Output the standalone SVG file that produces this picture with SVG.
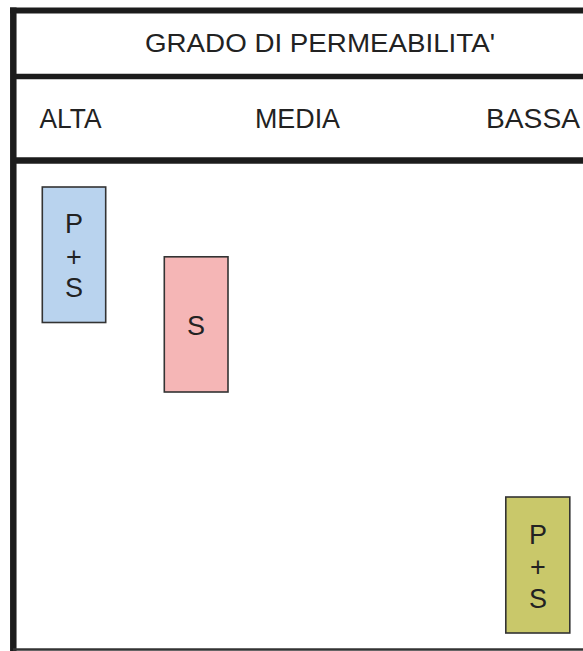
<svg xmlns="http://www.w3.org/2000/svg" width="583" height="651" viewBox="0 0 583 651">
<style>
.frame{stroke:#1c1c1c;fill:none;}
.t{font-family:"Liberation Sans",Arial,sans-serif;fill:#222;}
.box{stroke:#333;stroke-width:1.6;}
.bt{font-family:"Liberation Sans",Arial,sans-serif;fill:#222;font-size:27px;text-anchor:middle;}
</style>
<rect width="583" height="651" fill="#ffffff"/>
<g id="frame">
<line class="frame" x1="10" y1="10.4" x2="583" y2="10.4" stroke-width="6"/>
<line class="frame" x1="13.3" y1="7.4" x2="13.3" y2="651" stroke-width="6.5"/>
<line class="frame" x1="13" y1="76.5" x2="583" y2="76.5" stroke-width="5.5"/>
<line class="frame" x1="13" y1="160.5" x2="583" y2="160.5" stroke-width="6.5"/>
<line x1="13" y1="649.5" x2="583" y2="649.5" stroke="#333" stroke-width="2.5"/>
</g>
<g id="header">
<text class="t" x="145" y="52.3" font-size="25.5" textLength="350" lengthAdjust="spacingAndGlyphs">GRADO DI PERMEABILITA'</text>
<text class="t" x="39.5" y="128.3" font-size="27" textLength="62" lengthAdjust="spacingAndGlyphs">ALTA</text>
<text class="t" x="255" y="128.3" font-size="27" textLength="85" lengthAdjust="spacingAndGlyphs">MEDIA</text>
<text class="t" x="486" y="128.3" font-size="27" textLength="94" lengthAdjust="spacingAndGlyphs">BASSA</text>
</g>
<g id="node-alta">
<rect class="box" x="42.3" y="187" width="63.4" height="135.5" fill="#b9d3ee"/>
<text class="bt" x="74" y="233">P</text>
<text class="bt" x="74" y="265.5">+</text>
<text class="bt" x="74" y="297">S</text>
</g>
<g id="node-media">
<rect class="box" x="164.3" y="256.8" width="63.7" height="135.2" fill="#f5b6b6"/>
<text class="bt" x="196" y="335">S</text>
</g>
<g id="node-bassa">
<rect class="box" x="505.8" y="497" width="64" height="136" fill="#c9c86a"/>
<text class="bt" x="538" y="543.5">P</text>
<text class="bt" x="538" y="576">+</text>
<text class="bt" x="538" y="608">S</text>
</g>
<g id="connectors"></g>
</svg>
